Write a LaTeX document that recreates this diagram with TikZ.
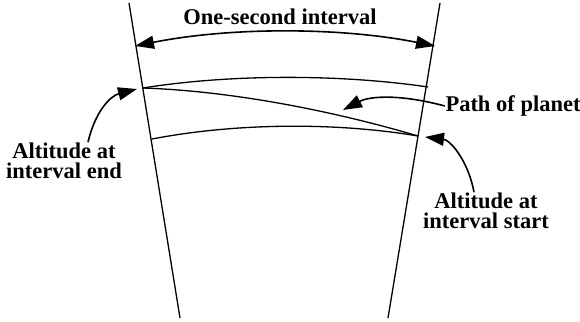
\documentclass[tikz,border=0pt]{standalone}
\usepackage{fontspec}
\setmainfont{Liberation Serif}
\usetikzlibrary{arrows.meta}
\tikzset{
    orbitfig/.style={x=1pt, y=-1pt, line width=1.3pt},
    lbl/.style={font=\bfseries\fontsize{22.5}{20.5}\selectfont, align=center, inner sep=0pt},
    % curved pointer from a label to a corner of the sector
    pointer/.style={-{Triangle[length=19pt,width=13pt]}, line width=1.6pt},
    span/.style={{Triangle[length=19pt,width=13pt]}-{Triangle[length=19pt,width=13pt]}, line width=1.6pt},
}
\begin{document}
\begin{tikzpicture}[orbitfig]
    \useasboundingbox (0,0) rectangle (580,321);

    % corners of the sector
    \coordinate (ul) at (143,88);
    \coordinate (ur) at (428,87);
    \coordinate (ll) at (152,139);
    \coordinate (lr) at (418,136);

    % radial lines
    \draw (129,3) -- (180,318);
    \draw (440,3) -- (388,318);

    % the two altitudes and the path
    \draw (ul) .. controls (230,74) and (340,74) .. (ur);
    \draw (ll) .. controls (235,123) and (335,122) .. (lr);
    \draw (ul) .. controls (230,91) and (330,110) .. (lr);

    % interval
    \coordinate (il) at (135,46);
    \coordinate (ir) at (435,46);
    \draw[span] (il) .. controls (230,27) and (340,27) .. (ir);
    \node[lbl] (interval) at (280,17) {One-second interval};

    \node[lbl] (endalt) at (64,161) {Altitude at\\interval end};
    \draw[pointer] (endalt.north -| 88,0) .. controls (95,112) and (110,96) .. (137,89);

    \node[lbl] (path) at (513,106) {Path of planet};
    \coordinate (ptip) at (343,110);
    \draw[pointer] (path.west) .. controls (400,94) and (370,96) .. (ptip);

    \node[lbl] (startalt) at (486,211) {Altitude at\\interval start};
    \coordinate (stip) at (425,137);
    \draw[pointer] (startalt.north -| 474,0) .. controls (468,160) and (450,140) .. (stip);
\end{tikzpicture}
\end{document}
